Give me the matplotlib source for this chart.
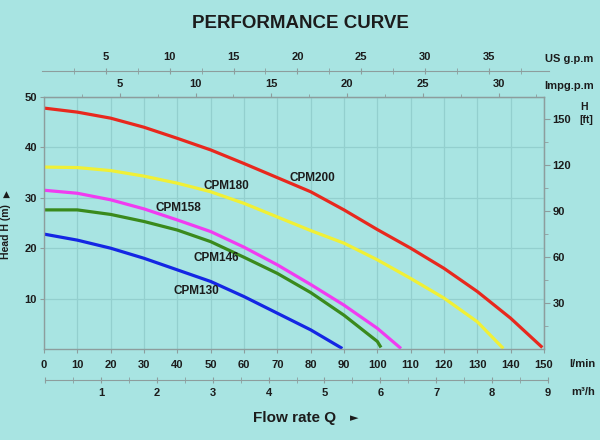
import numpy as np
import matplotlib
matplotlib.use("Agg")
import matplotlib.pyplot as plt

plt.rcParams['font.family'] = ['Liberation Sans', 'DejaVu Sans']
plt.rcParams['font.weight'] = 'bold'

# curve data: flow in l/min, head in m
q_200 = [0, 10, 20, 30, 40, 50, 60, 70, 80, 90, 100, 110, 120, 130, 140, 149.5]
h_200 = [47.8, 47.0, 45.8, 44.0, 41.8, 39.5, 36.8, 34.0, 31.2, 27.6, 23.7, 20.0, 16.0, 11.4, 6.1, 0.3]

q_180 = [0, 10, 20, 30, 40, 50, 60, 70, 80, 90, 100, 110, 120, 130, 137.8]
h_180 = [36.1, 36.0, 35.4, 34.3, 32.9, 31.2, 28.9, 26.2, 23.5, 21.0, 17.7, 14.0, 10.1, 5.4, 0.1]

q_158 = [0, 10, 20, 30, 40, 50, 60, 70, 80, 90, 100, 107.1]
h_158 = [31.5, 30.9, 29.6, 27.8, 25.6, 23.3, 20.2, 16.7, 12.8, 8.7, 4.1, 0.1]

q_146 = [0, 10, 20, 30, 40, 50, 60, 70, 80, 90, 100, 101.1]
h_146 = [27.6, 27.6, 26.7, 25.3, 23.6, 21.3, 18.2, 15.0, 11.2, 6.7, 1.5, 0.3]

q_130 = [0, 10, 20, 30, 40, 50, 60, 70, 80, 89.5]
h_130 = [22.8, 21.6, 20.0, 18.0, 15.7, 13.4, 10.4, 7.1, 3.8, 0.1]

models = ['CPM200', 'CPM180', 'CPM158', 'CPM146', 'CPM130']
colors = ['#e8281e', '#f0f036', '#f03cf0', '#3a8a1c', '#1426e4']
label_q = [80.5, 54.6, 40.3, 51.6, 45.6]
label_h = [34.0, 32.3, 27.9, 18.0, 11.6]

flow_ticks = list(range(0, 160, 10))
head_ticks = [10, 20, 30, 40, 50]
ft_ticks = [30, 60, 90, 120, 150]
imp_ticks = [5, 10, 15, 20, 25, 30]
us_ticks = [5, 10, 15, 20, 25, 30, 35]
m3h_ticks = [1, 2, 3, 4, 5, 6, 7, 8, 9]

BG = '#a8e4e2'
SPINE = '#8d9d9d'
GRID = '#93cfce'
TXT = '#1c1c1c'
W, H = 600, 440
TICK_FS = 8


def rect(x0, y0, x1, y1):
    # pixel box (from top-left) -> figure fraction
    return [x0 / W, 1 - y1 / H, (x1 - x0) / W, (y1 - y0) / H]


def ftext(x, y, s, **kw):
    kw.setdefault('ha', 'center')
    kw.setdefault('va', 'center')
    kw.setdefault('color', TXT)
    kw.setdefault('fontweight', 'bold')
    fig.text(x / W, 1 - y / H, s, **kw)


fig = plt.figure(figsize=(6, 4.4), dpi=100, facecolor=BG)

ax = fig.add_axes(rect(44, 97, 544, 349))
ax.set_facecolor(BG)
ax.set_xlim(0, 150)
ax.set_ylim(0, 50)
ax.set_xticks(flow_ticks)
ax.set_yticks(head_ticks)
ax.grid(True, color=GRID, lw=0.9)
ax.set_axisbelow(True)
for s in ax.spines.values():
    s.set_color(SPINE)
    s.set_linewidth(1.0)
ax.tick_params(axis='x', direction='out', length=3, color=SPINE, pad=5,
               labelsize=TICK_FS, labelcolor=TXT)
ax.tick_params(axis='y', direction='out', length=3, color=SPINE, pad=2,
               labelsize=TICK_FS, labelcolor=TXT)

for q, h, c in zip([q_200, q_180, q_158, q_146, q_130],
                   [h_200, h_180, h_158, h_146, h_130], colors):
    ax.plot(q, h, color=c, lw=2.3, solid_capstyle='butt', solid_joinstyle='round')

for name, lq, lh in zip(models, label_q, label_h):
    ax.text(lq, lh, name, ha='center', va='center', fontsize=8.5,
            fontweight='bold', color=TXT)

# Imp gallons on the top spine
imp = ax.secondary_xaxis('top', functions=(lambda q: q / 4.546, lambda g: g * 4.546))
imp.set_xticks(imp_ticks)
imp.set_xticks(np.arange(2.5, 33, 2.5), minor=True)
imp.tick_params(which='both', direction='out', length=3, color=SPINE, pad=3,
                labelsize=TICK_FS, labelcolor=TXT)
imp.tick_params(which='minor', length=2.5)
imp.spines['top'].set_color(SPINE)

# feet on the right spine
ft = ax.secondary_yaxis('right', functions=(lambda m: m * 3.2808, lambda f: f / 3.2808))
ft.set_yticks(ft_ticks)
ft.set_yticks(np.arange(15, 165, 15), minor=True)
ft.tick_params(which='both', direction='out', length=4, color=SPINE, pad=2,
               labelsize=TICK_FS, labelcolor=TXT)
ft.tick_params(which='minor', length=3)
ft.spines['right'].set_color(SPINE)

# US gallons axis above
us = fig.add_axes(rect(42, 70.5, 549, 71))
us.set_facecolor('none')
us.set_xlim(0, 39.7)
us.set_yticks([])
for k in ['top', 'left', 'right']:
    us.spines[k].set_visible(False)
us.spines['bottom'].set_color(SPINE)
us.set_xticks(us_ticks)
us.set_xticks(np.arange(2.5, 39, 2.5), minor=True)
us.tick_params(axis='x', which='both', direction='inout', length=4, color=SPINE,
               bottom=True, top=False, labelbottom=False, labeltop=True,
               pad=4, labelsize=TICK_FS, labelcolor=TXT)

# m3/h axis below
m3 = fig.add_axes(rect(45, 379, 548, 379.5))
m3.set_facecolor('none')
m3.set_xlim(0, 9)
m3.set_yticks([])
for k in ['top', 'left', 'right']:
    m3.spines[k].set_visible(False)
m3.spines['bottom'].set_color(SPINE)
m3.set_xticks([0] + m3h_ticks)
m3.set_xticklabels([''] + [str(v) for v in m3h_ticks])
m3.set_xticks(np.arange(0.5, 9, 0.5), minor=True)
m3.tick_params(axis='x', which='both', direction='inout', length=4, color=SPINE,
               pad=4, labelsize=TICK_FS, labelcolor=TXT)

# texts
ftext(300.5, 23, 'PERFORMANCE CURVE', fontsize=13.5)
ftext(569, 59, 'US g.p.m', fontsize=8)
ftext(569, 86, 'Impg.p.m', fontsize=8)
ftext(584, 107, 'H', fontsize=7.5)
ftext(586, 120, '[ft]', fontsize=7.5)
ftext(582, 364, 'l/min', fontsize=8)
ftext(583, 392, 'm³/h', fontsize=8)
ftext(294.5, 417.5, 'Flow rate Q', fontsize=11)
ftext(354, 418, '►', fontsize=8, family=['DejaVu Sans'])
ftext(6, 232, 'Head H (m)', fontsize=7.5, rotation=90)
ftext(6, 194, '▲', fontsize=6.5, family=['DejaVu Sans'])

fig.savefig('out.png', dpi=100, facecolor=BG)
